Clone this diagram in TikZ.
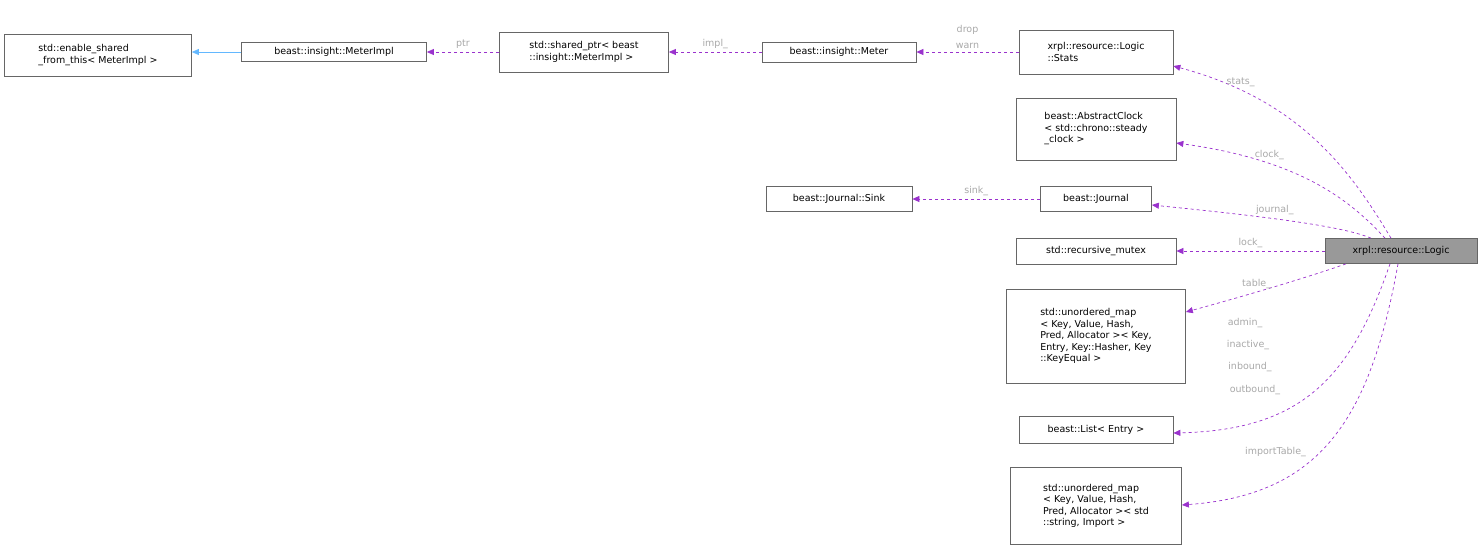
\documentclass[tikz,border=0pt]{standalone}
\usepackage{fontspec}
\setmainfont{DejaVu Sans}
\usetikzlibrary{arrows.meta, positioning, calc}
\definecolor{edgepurple}{HTML}{9A32CD}
\definecolor{edgeblue}{HTML}{63B8FF}
\definecolor{labelgray}{HTML}{A8A8A8}
\definecolor{boxline}{HTML}{666666}
\definecolor{mainfill}{HTML}{999999}

\begin{document}
\begin{tikzpicture}[x=1pt, y=-1pt, font=\fontsize{9.5}{11.5}\selectfont]
    \tikzset{
      cls/.style = {rectangle, draw=boxline, line width=0.7pt, fill=white, align=left,
        inner sep=3pt, text=black},
      member/.style = {-{Triangle[length=7pt,width=6pt]}, edgepurple, dashed, line width=0.7pt},
      inherit/.style = {-{Triangle[length=7pt,width=6pt]}, edgeblue, line width=0.7pt},
      tag/.style = {text=labelgray, font=\fontsize{9.5}{11.5}\selectfont}
    }
    \useasboundingbox (0,0) rectangle (1483,552);

    \node (shared) [cls, minimum width=187pt, minimum height=42pt] at (98,55)
      {std::enable\_shared\\\_from\_this< MeterImpl >};
    \node (impl) [cls, minimum width=185pt, minimum height=19pt] at (334,52) {beast::insight::MeterImpl};
    \node (sptr) [cls, minimum width=169pt, minimum height=40pt] at (584,52)
      {std::shared\_ptr< beast\\::insight::MeterImpl >};
    \node (meter) [cls, minimum width=154pt, minimum height=20pt] at (839,52) {beast::insight::Meter};
    \node (stats) [cls, minimum width=154pt, minimum height=44pt] at (1096,52)
      {xrpl::resource::Logic\\::Stats};
    \node (clock) [cls, minimum width=160pt, minimum height=62pt] at (1096,129)
      {beast::AbstractClock\\< std::chrono::steady\\\_clock >};
    \node (journal) [cls, minimum width=111pt, minimum height=25pt] at (1096,199) {beast::Journal};
    \node (sink) [cls, minimum width=146pt, minimum height=25pt] at (839,199) {beast::Journal::Sink};
    \node (mutex) [cls, minimum width=160pt, minimum height=26pt] at (1096,251) {std::recursive\_mutex};
    \node (table) [cls, minimum width=179pt, minimum height=94pt] at (1096,336)
      {std::unordered\_map\\< Key, Value, Hash,\\ Pred, Allocator >< Key,\\ Entry, Key::Hasher, Key\\ ::KeyEqual >};
    \node (list) [cls, minimum width=154pt, minimum height=27pt] at (1096,430) {beast::List< Entry >};
    \node (imports) [cls, minimum width=171pt, minimum height=77pt] at (1096,506)
      {std::unordered\_map\\< Key, Value, Hash,\\ Pred, Allocator >< std\\ ::string, Import >};
    \node (logic) [cls, fill=mainfill, minimum width=152pt, minimum height=25pt] at (1401,251)
      {xrpl::resource::Logic};

    % left chain
    \draw [inherit] (impl.west) -- (shared.east |- impl.west);
    \draw [member] (sptr.west) -- (impl.east) node[midway, above, tag] {ptr};
    \draw [member] (meter.west) -- (sptr.east) node[midway, above, tag] {impl\_};
    \draw [member] (stats.west) -- (meter.east) node[midway, above, tag] {warn}
      node[midway, above=14pt, tag] {drop};
    \draw [member] (journal.west) -- (sink.east) node[midway, above, tag] {sink\_};

    % members of Logic
    \draw [member] ($(logic.north)+(-10,0)$) .. controls (1350,170) and (1300,100) .. (stats.east |- 0,66)
      node[pos=0.8, tag, above] {stats\_};
    \draw [member] ($(logic.north)+(-16,0)$) .. controls (1350,200) and (1300,160) .. (clock.east |- 0,143)
      node[pos=0.7, tag, above] {clock\_};
    \draw [member] ($(logic.north)+(-30,0)$) .. controls (1340,225) and (1250,215) .. (journal.east |- 0,205)
      node[pos=0.55, tag, above] {journal\_};
    \draw [member] (logic.west) -- (mutex.east) node[midway, above, tag] {lock\_};
    \draw [member] ($(logic.south)+(-55,0)$) .. controls (1300,280) and (1230,300) .. (table.east |- 0,312)
      node[pos=0.55, tag, above] {table\_};
    \draw [member] ($(logic.south)+(-11,0)$) .. controls (1350,380) and (1300,430) .. (list.east |- 0,433);
    \node [tag] at (1245,323) {admin\_};
    \node [tag] at (1248,345) {inactive\_};
    \node [tag] at (1250,367) {inbound\_};
    \node [tag] at (1255,390) {outbound\_};
    \draw [member] ($(logic.south)+(-3,0)$) .. controls (1370,420) and (1320,495) .. (imports.east |- 0,505)
      node[pos=0.6, tag, above left] {importTable\_};
\end{tikzpicture}
\end{document}
